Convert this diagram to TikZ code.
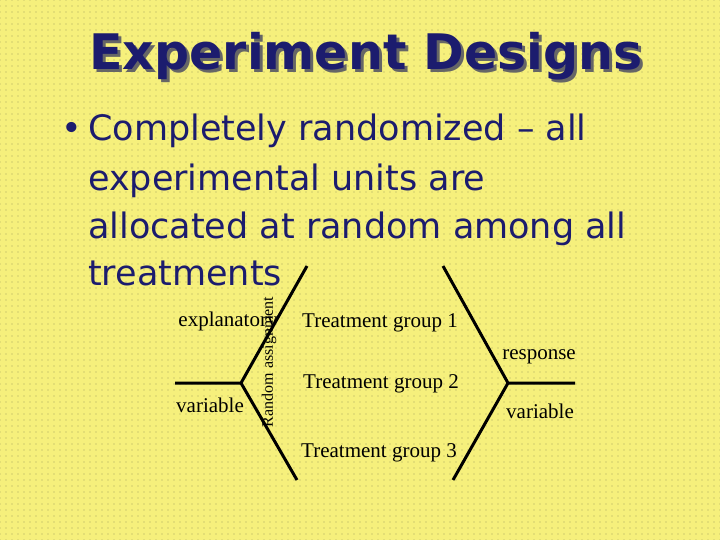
\documentclass[tikz,border=0pt]{standalone}
\usepackage{fontspec}
\setmainfont{Liberation Serif}
\newfontfamily\comic{DejaVu Sans}
\usetikzlibrary{patterns.meta}
\definecolor{bg}{HTML}{F6F07C}
\definecolor{dotc}{HTML}{A8A460}
\definecolor{navy}{HTML}{1C1C6E}
\tikzset{
  body/.style={anchor=base west,text=navy,font=\comic\fontsize{35}{35}\selectfont,inner sep=0pt},
  lbl/.style={font=\fontsize{21}{21}\selectfont,inner sep=0pt},
  arm/.style={line width=3pt,black},
}
\begin{document}
\begin{tikzpicture}[x=1pt,y=-1pt]
\useasboundingbox (0,0) rectangle (720,540);
\fill[bg] (0,0) rectangle (720,540);
\fill[pattern={Dots[distance=6pt,radius=0.6pt]},pattern color=dotc] (0,0) rectangle (720,540);
\node[text=black!60,font=\comic\bfseries\fontsize{49}{49}\selectfont] (tsh) at (369,59) {Experiment Designs};
\node[text=navy,font=\comic\bfseries\fontsize{49}{49}\selectfont] (title) at (366,56) {Experiment Designs};
\node[body,anchor=base east] (bul) at (82,141) {•};
\node[body] (l1) at (88,141) {Completely randomized – all};
\node[body] (l2) at (88,191) {experimental units are};
\node[body] (l3) at (88,239) {allocated at random among all};
\node[body] (l4) at (88,285) {treatments};
\coordinate (L) at (241,383);
\coordinate (L0) at (175,383);
\coordinate (LU) at (307,266);
\coordinate (LD) at (297,480);
\coordinate (R) at (508,383);
\coordinate (R0) at (575,383);
\coordinate (RU) at (443,266);
\coordinate (RD) at (453,480);
\draw[arm] (L0) -- (L) -- (LU);
\draw[arm] (L) -- (LD);
\draw[arm] (R0) -- (R) -- (RU);
\draw[arm] (R) -- (RD);
\node[lbl] (ex) at (228,321) {explanatory};
\node[lbl] (v1) at (210,405) {variable};
\node[lbl] (t1) at (380,323) {Treatment group 1};
\node[lbl] (t2) at (381,384) {Treatment group 2};
\node[lbl] (t3) at (379,453) {Treatment group 3};
\node[lbl] (resp) at (539,357) {response};
\node[lbl] (v2) at (540,411) {variable};
\node[font=\fontsize{16}{16}\selectfont,inner sep=0pt,rotate=90] (ra) at (269,362) {Random assignment};
\end{tikzpicture}
\end{document}
